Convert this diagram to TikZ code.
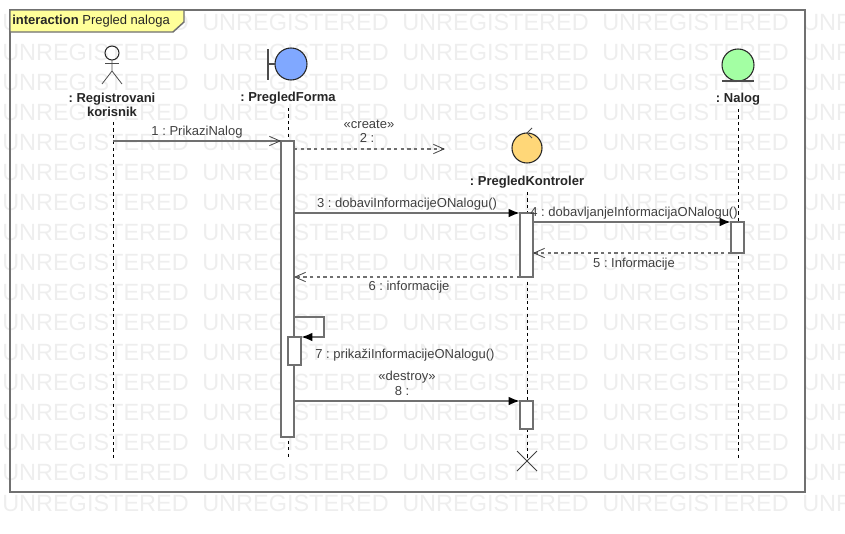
\documentclass[tikz,border=0pt]{standalone}
\usepackage{fontspec}
\setmainfont{Liberation Sans}
\frenchspacing
\usepackage{xcolor}
\definecolor{frameline}{RGB}{112,112,112}
\definecolor{tagfill}{RGB}{255,255,153}
\definecolor{formfill}{RGB}{128,168,255}
\definecolor{ctrlfill}{RGB}{255,215,120}
\definecolor{entityfill}{RGB}{163,255,163}
\definecolor{stampgray}{RGB}{238,238,238}
\usetikzlibrary{arrows.meta,positioning}
\newcommand{\msg}[2]{\draw[call] (#1) -- (#2)}
\newcommand{\rep}[2]{\draw[reply] (#1) -- (#2)}

\begin{document}
\begin{tikzpicture}[
      x=0.75pt,y=-0.75pt,
      call/.style={draw=frameline,line width=1.5pt,-{Latex[black,length=8.5pt,width=6.5pt]}},
      plain/.style={draw=frameline,line width=1.5pt,-{Straight Barb[length=8pt,width=7pt,line width=0.6pt,black!75]}},
      reply/.style={draw=frameline,line width=1.1pt,dash pattern=on 2.6pt off 2.4pt,-{Straight Barb[length=8pt,width=7pt,line width=0.6pt,black!75]}},
      lifeline/.style={draw=black,line width=0.75pt,dash pattern=on 2.4pt off 2.4pt},
      bar/.style={rectangle,draw=frameline,fill=white,line width=1.5pt,minimum width=9.75pt,inner sep=0pt,outer sep=0pt},
      head/.style={circle,draw=black!85,line width=0.8pt,inner sep=0pt,outer sep=0pt},
      who/.style={font=\fontsize{9.75pt}{10.5pt}\selectfont\bfseries,text=black!85,align=center,inner sep=0pt,outer ysep=3pt},
      txt/.style={font=\fontsize{9.75pt}{10pt}\selectfont,text=black!75,inner sep=0pt},
      stamp/.style={font=\fontsize{17.6pt}{19pt}\selectfont,text=stampgray,anchor=west,inner sep=0pt}]

      % Watermark
      \begin{scope}
        \clip (0,0) rectangle (845,533);
        \foreach \row in {0,...,16}
          \foreach \col in {0,...,4}
            \node[stamp] (wm\row c\col) at (2+\col*200,22+\row*30.06) {UNREGISTERED};
      \end{scope}
      \useasboundingbox (0,0) rectangle (845,533);

      % Frame
      \node[rectangle,draw=frameline,line width=1.5pt,outer sep=0pt,minimum width=596.25pt,minimum height=361.5pt,inner sep=0pt] (frame) at (407.5,251) {};
      \filldraw[draw=frameline,fill=tagfill,line width=1.1pt] (10,10) -- (184,10) -- (184,22) -- (173,32) -- (10,32) -- cycle;
      \node[anchor=west,font=\fontsize{9.75pt}{10pt}\selectfont,text=black!85,inner sep=0pt] (tag) at (12,21.5) {\textbf{interaction} Pregled naloga};

      % Define nodes
      \node[head,minimum size=10.5pt] (actorhead) at (112,53) {};
      \draw[draw=black!70,line width=0.6pt] (actorhead.south) -- (112,71) -- (102,84);
      \draw[draw=black!70,line width=0.6pt] (112,71) -- (122,84);
      \draw[draw=black!70,line width=0.6pt] (105,63) -- (119,63);
      \node[who] (user) at (112,105) {: Registrovani\\korisnik};

      \node[head,fill=formfill,minimum size=24pt] (formhead) at (291,64) {};
      \draw[draw=black!70,line width=0.8pt] (268,49) -- (268,80);
      \draw[draw=black!70,line width=0.8pt] (268,64) -- (formhead.west);
      \node[who] (form) at (288,98) {: PregledForma};

      \node[head,fill=ctrlfill,minimum size=22.5pt] (ctrlhead) at (527,148) {};
      \draw[draw=black!70,line width=0.6pt] (532,128) -- (ctrlhead.north) -- (532,138);
      \node[who] (ctrl) at (527,182) {: PregledKontroler};

      \node[head,fill=entityfill,minimum size=24pt] (entityhead) at (738,65) {};
      \draw[draw=black!70,line width=0.8pt] (722,81) -- (754,81);
      \node[who] (entity) at (738,99) {: Nalog};

      \coordinate (userstart) at (113,122);
      \coordinate (userend) at (113,460);
      \coordinate (formend) at (288,460);
      \coordinate (ctrlend) at (527,461);
      \coordinate (entityend) at (738,460);

      % Lifelines
      \draw[lifeline] (userstart) -- (userend);
      \draw[lifeline] (form.south) -- (formend);
      \draw[lifeline] (ctrl.south) -- (ctrlend);
      \draw[lifeline] (entity.south) -- (entityend);

      % Activations
      \node[bar,minimum height=222pt] (formbar) at (287.5,289) {};
      \node[bar,minimum height=21pt] (selfbar) at (294.5,351) {};
      \node[bar,minimum height=48pt] (ctrlbar) at (526.5,245) {};
      \node[bar,minimum height=21pt] (killbar) at (526.5,415) {};
      \node[bar,minimum height=23.25pt] (entitybar) at (737.5,237.5) {};

      % Destroy mark
      \coordinate (x1) at (517,451);
      \coordinate (x2) at (537,471);
      \coordinate (x3) at (517,471);
      \coordinate (x4) at (537,451);
      \draw[draw=black!75,line width=0.6pt] (x1) -- (x2);
      \draw[draw=black!75,line width=0.6pt] (x3) -- (x4);

      % Draw paths
      \coordinate (m1) at (113,141);
      \coordinate (m2a) at (294,149);
      \coordinate (m2b) at (445,149);
      \coordinate (m3a) at (294,213);
      \coordinate (m4a) at (533,222);
      \coordinate (m5b) at (533,253);
      \coordinate (m6b) at (294,277);
      \coordinate (m7a) at (294,317);
      \coordinate (m8a) at (294,401);
      \draw[plain] (m1) -- (formbar.north west);
      \rep{m2a}{m2b};
      \msg{m3a}{ctrlbar.north west};
      \msg{m4a}{entitybar.north west};
      \rep{entitybar.south west}{m5b};
      \rep{ctrlbar.south west}{m6b};
      \draw[call] (m7a) -- (324,317) -- (324,337) -- (selfbar.north east);
      \msg{m8a}{killbar.north west};

      % Labels
      \node[txt] (l1) at (197,132) {1 : PrikaziNalog};
      \node[txt] (l2a) at (369,124) {«create»};
      \node[txt] (l2b) at (367,138) {2 :};
      \node[txt] (l3) at (407,204) {3 : dobaviInformacijeONalogu()};
      \node[txt] (l4) at (634,213) {4 : dobavljanjeInformacijaONalogu()};
      \node[txt] (l5) at (634,264.5) {5 : Informacije};
      \node[txt] (l6) at (409,287) {6 : informacije};
      \node[txt] (l7) at (405,355.5) {7 : prikažiInformacijeONalogu()};
      \node[txt] (l8a) at (407,377) {«destroy»};
      \node[txt] (l8b) at (402,391) {8 :};
\end{tikzpicture}
\end{document}
